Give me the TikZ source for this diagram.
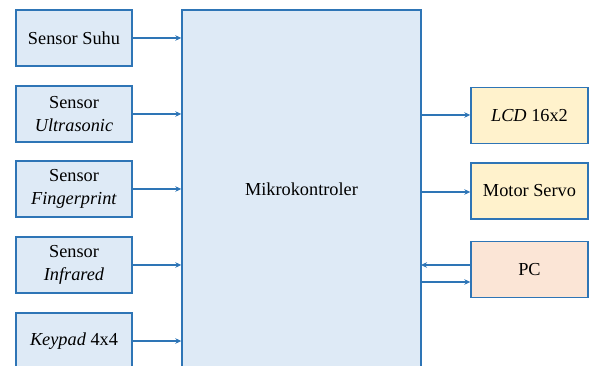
\documentclass[tikz,border=0pt]{standalone}
\usepackage{fontspec}
\setmainfont{Liberation Serif}
\usetikzlibrary{arrows.meta}
\definecolor{bordc}{RGB}{46,117,182}
\definecolor{bluef}{RGB}{222,234,246}
\definecolor{yelf}{RGB}{255,242,204}
\definecolor{pcf}{RGB}{251,229,214}
\tikzset{
  blk/.style={draw=bordc, line width=1.4pt, align=center, inner sep=0pt,
    font=\fontsize{18.3}{22.5}\selectfont},
  inbox/.style={blk, fill=bluef, minimum width=116pt, minimum height=56pt},
  outbox/.style={blk, fill=yelf, minimum width=117pt, minimum height=56pt},
  conn/.style={draw=bordc, line width=1.3pt, -{Stealth[length=6pt,width=5.5pt]}}
}
\begin{document}
\begin{tikzpicture}[x=1pt,y=-1pt]
\useasboundingbox (0,0) rectangle (592,366);
\clip (0,0) rectangle (592,366);
\node[blk, fill=bluef, minimum width=239pt, minimum height=358pt] (main) at (301.5,189) {Mikrokontroler};
\node[inbox] (suhu) at (74,38) {Sensor Suhu};
\node[inbox] (ultra) at (74,114) {Sensor\\\textit{Ultrasonic}};
\node[inbox] (finger) at (74,189) {Sensor\\\textit{Fingerprint}};
\node[inbox] (infra) at (74,265) {Sensor\\\textit{Infrared}};
\node[inbox] (keypad) at (74,341) {\textit{Keypad} 4x4};
\node[outbox] (lcd) at (529.5,115.5) {\textit{LCD} 16x2};
\node[outbox] (servo) at (529.5,191) {Motor Servo};
\node[blk, fill=pcf, minimum width=117pt, minimum height=56pt] (pc) at (529.5,269.5) {PC};
\foreach \n in {suhu,ultra,finger,infra,keypad}
  \draw[conn] (\n.east) -- (\n.east -| main.west);
\coordinate (lcdy) at (421,115);
\coordinate (servoy) at (421,192);
\coordinate (pcin) at (421,265);
\coordinate (pcout) at (421,282);
\draw[conn] (lcdy) -- (lcdy -| lcd.west);
\draw[conn] (servoy) -- (servoy -| servo.west);
\draw[conn] (pcin -| pc.west) -- (pcin);
\draw[conn] (pcout) -- (pcout -| pc.west);
\end{tikzpicture}
\end{document}
